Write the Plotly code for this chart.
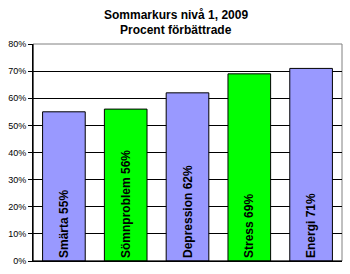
import plotly.graph_objects as go

categories = ["Smärta", "Sömnproblem", "Depression", "Stress", "Energi"]
values = [55, 56, 62, 69, 71]
colors = ["#9999FF", "#00FF00", "#9999FF", "#00FF00", "#9999FF"]
labels = [f"{c} {v}%" for c, v in zip(categories, values)]
title_lines = ["Sommarkurs nivå 1, 2009", "Procent förbättrade"]

fig = go.Figure(go.Bar(
    x=categories, y=values,
    marker=dict(color=colors, line=dict(color="#000000", width=1)),
    text=labels, textposition="inside", insidetextanchor="start",
    textangle=-90,
    textfont=dict(family="Liberation Sans", size=12, color="#000000", weight="bold"),
    width=0.69,
))

fig.update_layout(
    width=350, height=274,
    margin=dict(l=32, r=8, t=44, b=11),
    paper_bgcolor="white", plot_bgcolor="white",
    showlegend=False,
    font=dict(family="Liberation Sans", size=9, color="#000000"),
)
for i, line in enumerate(title_lines):
    fig.add_annotation(text=f"<b>{line}</b>", xref="paper", yref="paper",
                       x=(175 - 32) / 310, y=(263 - (15 + 15 * i)) / 219,
                       xanchor="center", yanchor="middle", showarrow=False,
                       font=dict(family="Liberation Sans", size=12, color="#000000"))
fig.update_yaxes(range=[0, 80], dtick=10, ticksuffix="%", showgrid=True,
                 gridcolor="#000000", gridwidth=1, ticks="outside", ticklen=4,
                 tickcolor="#000000", showline=True, linecolor="#000000",
                 linewidth=1, mirror=False, zeroline=False,
                 tickfont=dict(size=9))
fig.update_xaxes(showticklabels=False, showline=True, linecolor="#000000",
                 linewidth=1, ticks="")
fig.add_shape(type="rect", xref="paper", yref="paper", x0=0, y0=0, x1=1, y1=1,
              line=dict(color="#808080", width=1), layer="below")
fig.add_shape(type="line", xref="paper", yref="paper", x0=0, y0=0, x1=0, y1=1,
              line=dict(color="#000000", width=1))
fig.add_shape(type="line", xref="paper", yref="paper", x0=0, y0=0, x1=1, y1=0,
              line=dict(color="#000000", width=1))

fig.write_html("out.html")
